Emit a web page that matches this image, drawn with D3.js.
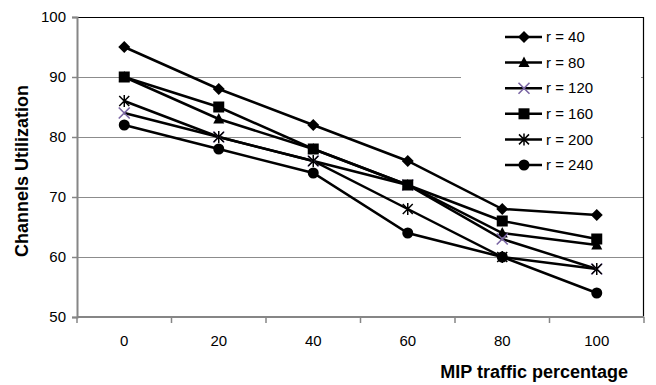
<!DOCTYPE html>
<html>
<head>
<meta charset="utf-8">
<script src="https://cdn.jsdelivr.net/npm/d3@7"></script>
<style>
  body { margin: 0; background: #fff; }
  text { font-family: "Liberation Sans", Arial, sans-serif; fill: #000; }
</style>
</head>
<body>
<div id="chart"></div>
<script>
// categories and series
const categories = ["0", "20", "40", "60", "80", "100"];
const seriesNames = ["r = 40", "r = 80", "r = 120", "r = 160", "r = 200", "r = 240"];
const r40  = [95, 88, 82, 76, 68, 67];
const r80  = [90, 83, 78, 72, 64, 62];
const r120 = [84, 80, 76, 72, 63, 58];
const r160 = [90, 85, 78, 72, 66, 63];
const r200 = [86, 80, 76, 68, 60, 58];
const r240 = [82, 78, 74, 64, 60, 54];
const yTicks = [50, 60, 70, 80, 90, 100];

const seriesValues = [r40, r80, r120, r160, r200, r240];
const markers = ["diamond", "triangle", "cross", "square", "asterisk", "circle"];

const W = 656, H = 385;
const margin = {top: 17, right: 12, bottom: 68, left: 77};
const width = W - margin.left - margin.right,
      height = H - margin.top - margin.bottom;

const svg = d3.select("#chart").append("svg")
    .attr("width", W)
    .attr("height", H);

const g = svg.append("g")
    .attr("transform", "translate(" + margin.left + "," + margin.top + ")");

const x = d3.scaleBand()
    .domain(categories)
    .range([0, width])
    .padding(0);

const y = d3.scaleLinear()
    .domain([50, 100])
    .range([height, 0]);

const cx = d => x(d) + x.bandwidth() / 2;

// gridlines
g.append("g")
  .selectAll("line")
  .data(yTicks.filter(t => t > 50 && t < 100))
  .join("line")
    .attr("x1", 0)
    .attr("x2", width)
    .attr("y1", d => Math.round(y(d)) + 0.5)
    .attr("y2", d => Math.round(y(d)) + 0.5)
    .attr("stroke", "#8c8c8c")
    .attr("stroke-width", 1);

// legend background hides the gridlines behind it (under the data)
g.append("rect")
    .attr("x", 461 - margin.left).attr("y", 2)
    .attr("width", 180).attr("height", 172)
    .attr("fill", "#fff");

// plot border (top + right)
g.append("path")
    .attr("d", "M0," + 0.5 + "H" + (width - 0.5) + "V" + height)
    .attr("fill", "none")
    .attr("stroke", "#000")
    .attr("stroke-width", 1.2);

// Y axis
const yAxis = g.append("g")
    .call(d3.axisLeft(y).tickValues(yTicks).tickSize(5).tickPadding(6));
yAxis.select(".domain").attr("stroke", "#868686").attr("stroke-width", 2);
yAxis.selectAll(".tick line").attr("stroke", "#868686").attr("stroke-width", 1.5);
yAxis.selectAll("text").style("font-size", "15px").style("font-family", "'Liberation Sans', Arial, sans-serif").attr("fill", "#000");

// X axis: labels at band centres, ticks at band edges
const xAxis = g.append("g")
    .attr("transform", "translate(0," + height + ")")
    .call(d3.axisBottom(x).tickSize(0).tickPadding(18));
xAxis.select(".domain").remove();
xAxis.selectAll("text").style("font-size", "15px").style("font-family", "'Liberation Sans', Arial, sans-serif").attr("fill", "#000");

const edges = categories.map(c => x(c)).concat([x.range()[1]]);
g.append("g")
  .selectAll("line")
  .data(edges)
  .join("line")
    .attr("x1", d => d)
    .attr("x2", d => d)
    .attr("y1", height)
    .attr("y2", height + 6)
    .attr("stroke", "#868686")
    .attr("stroke-width", 1.5);

g.append("line")
    .attr("x1", 0).attr("x2", width)
    .attr("y1", height).attr("y2", height)
    .attr("stroke", "#868686")
    .attr("stroke-width", 2);

// axis titles
svg.append("text")
    .attr("x", 628)
    .attr("y", 378)
    .attr("text-anchor", "end")
    .style("font-size", "18px")
    .style("font-weight", "bold")
    .text("MIP traffic percentage");

svg.append("text")
    .attr("transform", "translate(28,171) rotate(-90)")
    .attr("text-anchor", "middle")
    .style("font-size", "18px")
    .style("font-weight", "bold")
    .text("Channels Utilization");

// marker drawing
function drawMarker(sel, type) {
  if (type === "diamond") {
    sel.append("path").attr("d", "M0,-6L6,0L0,6L-6,0Z").attr("fill", "#000");
  } else if (type === "triangle") {
    sel.append("path").attr("d", "M0,-6L5.5,4.5L-5.5,4.5Z").attr("fill", "#000");
  } else if (type === "square") {
    sel.append("rect").attr("x", -5.5).attr("y", -5.5).attr("width", 11).attr("height", 11).attr("fill", "#000");
  } else if (type === "circle") {
    sel.append("circle").attr("r", 5.5).attr("fill", "#000");
  } else if (type === "cross") {
    sel.append("path").attr("d", "M-5.5,-5.5L5.5,5.5M-5.5,5.5L5.5,-5.5").attr("stroke", "#7a66a3").attr("stroke-width", 1.6).attr("fill", "none");
  } else if (type === "asterisk") {
    sel.append("path").attr("d", "M-5,-5L5,5M-5,5L5,-5M0,-6V6").attr("stroke", "#000").attr("stroke-width", 1.5).attr("fill", "none");
  }
}

const line = d3.line()
    .x((d, i) => cx(categories[i]))
    .y(d => y(d));

// lines
seriesValues.forEach(vals => {
  g.append("path")
      .datum(vals)
      .attr("fill", "none")
      .attr("stroke", "#000")
      .attr("stroke-width", 2.5)
      .attr("d", line);
});

// markers (draw in series order)
seriesValues.forEach((vals, s) => {
  g.append("g")
    .selectAll("g")
    .data(vals)
    .join("g")
      .attr("transform", (d, i) => "translate(" + cx(categories[i]) + "," + y(d) + ")")
      .each(function() { drawMarker(d3.select(this), markers[s]); });
});

// legend entries
const legRow = svg.append("g").selectAll("g.row")
  .data(seriesNames)
  .join("g")
    .attr("class", "row")
    .attr("transform", (d, i) => "translate(524," + (37 + i * 25.6) + ")");

legRow.append("line")
    .attr("x1", -19).attr("x2", 18)
    .attr("stroke", "#000")
    .attr("stroke-width", 2.5);

legRow.each(function(d, i) { drawMarker(d3.select(this), markers[i]); });

legRow.append("text")
    .attr("x", 22)
    .attr("dy", "0.35em")
    .style("font-size", "15px")
    .text(d => d);
</script>
</body>
</html>
